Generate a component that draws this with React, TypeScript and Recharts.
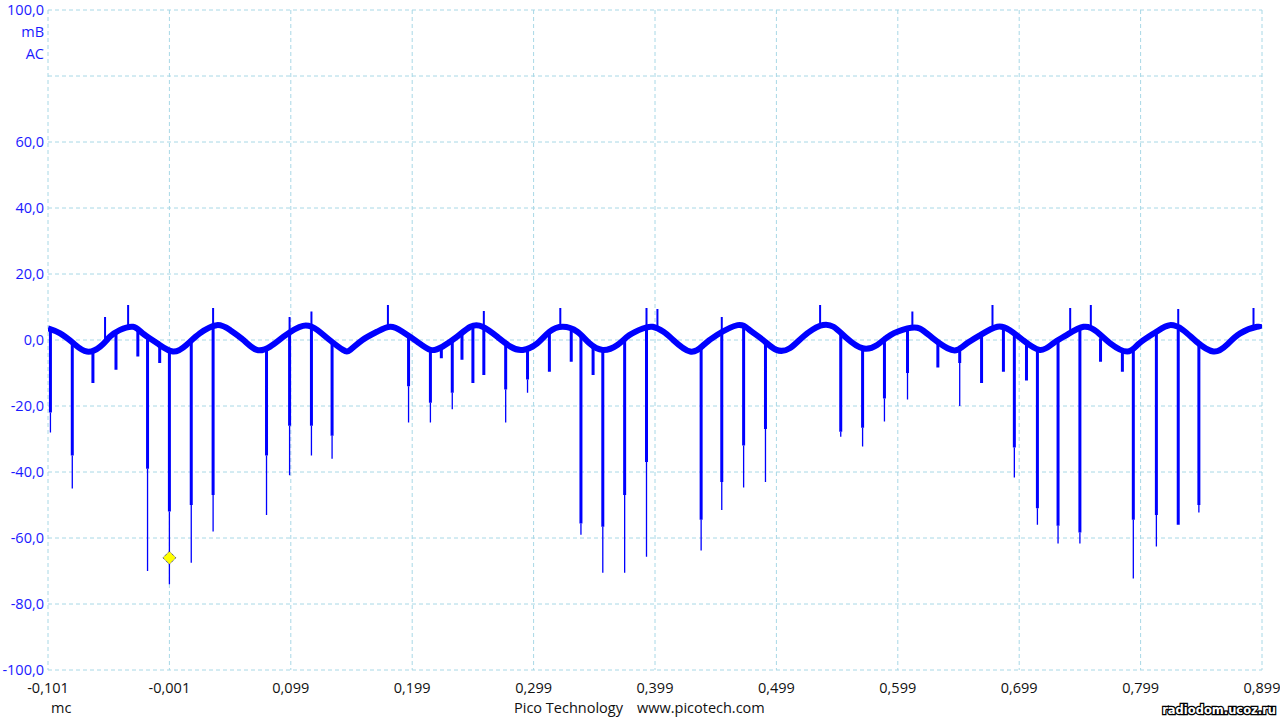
import { ComposedChart, Line, Scatter, XAxis, YAxis, CartesianGrid } from 'recharts';

// time axis, ms
const timeTicks = [-0.101, -0.001, 0.099, 0.199, 0.299, 0.399, 0.499, 0.599, 0.699, 0.799, 0.899];
const levelTicks = [-100, -80, -60, -40, -20, 0, 20, 40, 60, 80, 100];

// slow ripple under the noise (mV), read along the middle of the trace
const rippleTime = [
  -0.101, -0.091, -0.08, -0.069, -0.058, -0.05, -0.042, -0.031, -0.023, -0.011, 0.002, 0.013, 0.024, 0.038,
  0.049, 0.06, 0.071, 0.082, 0.093, 0.109, 0.121, 0.131, 0.142, 0.148, 0.158, 0.17, 0.181, 0.191, 0.203,
  0.214, 0.224, 0.236, 0.247, 0.257, 0.269, 0.28, 0.29, 0.302, 0.312, 0.323, 0.335, 0.345, 0.356, 0.368,
  0.378, 0.389, 0.397, 0.406, 0.414, 0.428, 0.439, 0.45, 0.467, 0.477, 0.488, 0.499, 0.51, 0.521, 0.535,
  0.546, 0.557, 0.57, 0.582, 0.593, 0.607, 0.617, 0.628, 0.64, 0.648, 0.656, 0.667, 0.681, 0.691, 0.702,
  0.716, 0.727, 0.738, 0.752, 0.763, 0.774, 0.788, 0.798, 0.812, 0.823, 0.834, 0.845, 0.859, 0.87, 0.881,
  0.895, 0.899,
];
const rippleLevel = [
  3.5, 2, -1, -3.5, -2, 1, 3, 4, 2, -1, -3.5, -1.5, 2, 4.5,
  3, 0, -3, -2, 1, 4.3, 3, 0, -3, -3, 0, 2.5, 4, 2.5, -0.5,
  -3, -2, 1, 4, 4, 1, -2, -3, -1, 2.5, 4, 2.5, -1, -3, -1.5,
  1.5, 3.5, 4, 2.5, 0, -3.5, -1.5, 1.5, 4.5, 3, 0, -3, -2.5, 1, 4.3,
  4, 0.5, -2.5, -1.5, 1.5, 3.5, 3.5, 0.5, -2.5, -3, -1, 1.5, 4, 3, 0,
  -3, -1, 1.5, 4, 2.5, -1, -3.5, -1, 2.5, 4.5, 3, -0.5, -3.5, -1.5, 2,
  4, 3.5,
];

// downward spikes: time, start level, end of the thick part, tip
const dipTime = [
  -0.099, -0.081, -0.064, -0.045, -0.027, -0.019, -0.009, -0.001, 0.017, 0.035, 0.079, 0.098, 0.116, 0.133,
  0.196, 0.214, 0.223, 0.232, 0.24, 0.249, 0.258, 0.276, 0.294, 0.312, 0.33, 0.338, 0.348, 0.356, 0.374,
  0.392, 0.437, 0.454, 0.472, 0.49, 0.552, 0.57, 0.588, 0.607, 0.632, 0.65, 0.668, 0.686, 0.695, 0.705,
  0.714, 0.731, 0.749, 0.766, 0.784, 0.793, 0.812, 0.83, 0.847,
];
const dipFrom = [
  3, -1, -3, 2, 3.5, 1.5, -2, -3.5, -0.5, 4, -2.5, 2.5, 3.5, -0.5,
  1.5, -3, -2, 0, 2, 4, 4, -1, -2.5, 2.5, 3.5, 1.5, -1.5, -3, 0.5,
  3.5, -2, 2.5, 4, -0.5, 2, -2.5, 1, 3.5, -0.5, -3, 1.5, 3.5, 2, -0.5,
  -2.5, 0, 3.5, 0.5, -3, -2, 2.5, 3, -1,
];
const dipBody = [
  -22, -35, -13, -9, -5, -39, -7, -52, -50, -47, -35, -26, -26, -29,
  -14, -19, -5.5, -16, -6, -13, -10.6, -15, -12, -9.6, -6.6, -55.6, -10.6, -56.6, -47,
  -37, -54.5, -43, -32, -27, -27.8, -26.6, -17.7, -10, -8.3, -7, -13, -9.6, -32.6, -12.3,
  -51, -56.3, -58.3, -6.6, -9.6, -54.5, -53, -56, -50,
];
const dipTip = [
  -28, -45, -13, -9, -5, -70, -7, -74, -67.5, -58, -53, -41, -35, -36,
  -25, -25, -5.5, -21, -6, -13, -10.6, -25, -16, -9.6, -6.6, -59, -10.6, -70.5, -70.5,
  -65.7, -63.8, -51.5, -44.7, -43, -29.3, -32.3, -24.7, -18, -8.3, -20, -13, -9.6, -41.7, -12.3,
  -56, -61.7, -61.7, -6.6, -9.6, -72.3, -62.6, -56, -52.3,
];

// upward noise spikes: time, start level, peak
const riseTime = [
  -0.054, -0.035, 0.035, 0.098, 0.116, 0.179, 0.258, 0.321, 0.392, 0.401, 0.454, 0.535, 0.611, 0.677,
  0.741, 0.758, 0.83, 0.892,
];
const riseFrom = [-0.5, 4, 4, 2.5, 3.5, 4, 4, 4, 3.5, 3.5, 2.5, 4.3, 3.5, 3.5, 2.5, 3.5, 3, 4];
const risePeak = [7, 10.6, 9.7, 7, 8.6, 10.6, 8.8, 9.7, 9.7, 9.4, 7, 10.6, 8.6, 10.6, 9.7, 10.6, 9.4, 9.7];

// cursor marker
const markerTime = [-0.001];
const markerLevel = [-66];

const ripple = rippleTime.map((t, i) => ({ t, v: rippleLevel[i] }));

type Row = { t: number; v: number | null };

const bodyRows: Row[] = [];
dipTime.forEach((t, i) => {
  bodyRows.push({ t, v: dipFrom[i] }, { t, v: dipBody[i] }, { t, v: null });
});

const riseRows: Row[] = [];
riseTime.forEach((t, i) => {
  riseRows.push({ t, v: riseFrom[i] }, { t, v: risePeak[i] }, { t, v: null });
});

const tipRows: Row[] = [];
dipTime.forEach((t, i) => {
  if (dipTip[i] < dipBody[i]) tipRows.push({ t, v: dipBody[i] }, { t, v: dipTip[i] }, { t, v: null });
});

const marker = markerTime.map((t, i) => ({ t, v: markerLevel[i] }));

const FONT = '"Open Sans", "Noto Sans", sans-serif';
const BLUE_TEXT = '#1a1aff';
const FS = 14.5;

const comma = (v: number, digits: number) => v.toFixed(digits).replace('.', ',');

function LevelTick(props: any) {
  const { x, y, payload } = props;
  const v = payload.value;
  if (v === 80) return null;
  return (
    <g>
      <text x={x} y={y} dy={5} textAnchor="end" fill={BLUE_TEXT} fontSize={FS} fontFamily={FONT}>
        {comma(v, 1)}
      </text>
      {v === 100 && (
        <>
          <text x={x} y={y + 22} dy={5} textAnchor="end" fill={BLUE_TEXT} fontSize={FS} fontFamily={FONT}>
            mB
          </text>
          <text x={x} y={y + 44} dy={5} textAnchor="end" fill={BLUE_TEXT} fontSize={FS} fontFamily={FONT}>
            AC
          </text>
        </>
      )}
    </g>
  );
}

function Diamond(props: any) {
  const { cx, cy } = props;
  const r = 6.5;
  return (
    <polygon
      points={`${cx},${cy - r} ${cx + r},${cy} ${cx},${cy + r} ${cx - r},${cy}`}
      fill="#ffff00"
      stroke="#1a1a8c"
      strokeWidth={1}
      strokeDasharray="1 1"
    />
  );
}

export default function App() {
  return (
    <div style={{ position: 'absolute', left: 0, top: 0, width: 1280, height: 720, background: '#fff', fontFamily: FONT }}>
      <style>{'body{margin:0}'}</style>
      <ComposedChart width={1280} height={720} margin={{ top: 10, right: 18, left: 0, bottom: 0 }}>
        <CartesianGrid stroke="#a8d8e6" strokeDasharray="4 3" />
        <XAxis
          dataKey="t"
          type="number"
          domain={[-0.101, 0.899]}
          ticks={timeTicks}
          allowDataOverflow
          axisLine={false}
          tickLine={false}
          height={50}
          tickMargin={7}
          tickFormatter={(v: number) => comma(v, 3)}
          tick={{ fontSize: FS, fill: '#111', fontFamily: FONT }}
        />
        <YAxis
          type="number"
          domain={[-100, 100]}
          ticks={levelTicks}
          allowDataOverflow
          axisLine={false}
          tickLine={false}
          width={48}
          tickSize={0}
          tickMargin={4}
          tick={<LevelTick />}
        />
        <Line
          data={ripple}
          dataKey="v"
          type="natural"
          stroke="#0000ff"
          strokeWidth={6}
          dot={false}
          activeDot={false}
          isAnimationActive={false}
        />
        <Line
          data={bodyRows}
          dataKey="v"
          type="linear"
          stroke="#0000ff"
          strokeWidth={3}
          dot={false}
          activeDot={false}
          connectNulls={false}
          isAnimationActive={false}
        />
        <Line
          data={riseRows}
          dataKey="v"
          type="linear"
          stroke="#0000ff"
          strokeWidth={2}
          dot={false}
          activeDot={false}
          connectNulls={false}
          isAnimationActive={false}
        />
        <Line
          data={tipRows}
          dataKey="v"
          type="linear"
          stroke="#0000ff"
          strokeWidth={1.3}
          dot={false}
          activeDot={false}
          connectNulls={false}
          isAnimationActive={false}
        />
        <Scatter data={marker} dataKey="v" shape={<Diamond />} isAnimationActive={false} />
      </ComposedChart>
      <div style={{ position: 'absolute', left: 51, top: 698, fontSize: FS, color: '#111' }}>mc</div>
      <div style={{ position: 'absolute', left: 514, top: 698, fontSize: FS, color: '#111' }}>Pico Technology</div>
      <div style={{ position: 'absolute', left: 637, top: 698, fontSize: FS, color: '#111' }}>www.picotech.com</div>
      <svg style={{ position: 'absolute', left: 1145, top: 698 }} width={135} height={22}>
        <text
          x={131}
          y={16}
          textAnchor="end"
          fontFamily="Verdana, DejaVu Sans, sans-serif"
          fontWeight="bold"
          fontSize={11.5}
          fill="#fff"
          stroke="#000"
          strokeWidth={2.5}
          paintOrder="stroke"
        >
          radiodom.ucoz.ru
        </text>
      </svg>
    </div>
  );
}
